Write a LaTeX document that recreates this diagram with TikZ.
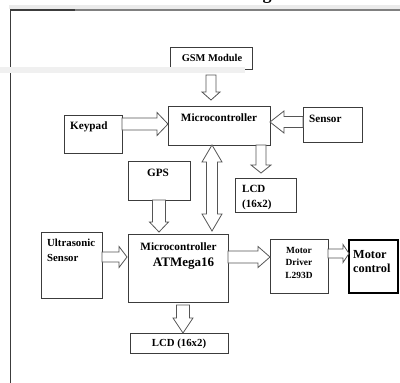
\documentclass[tikz,border=0pt]{standalone}
\usepackage{fontspec}
\setmainfont{Liberation Serif}
\usetikzlibrary{calc}
\definecolor{edge}{HTML}{3C3C3C}
\definecolor{arrc}{HTML}{555555}
% single hollow block arrow: #1 shaft half width, #2 head half width, #3 head length, #4 start, #5 tip
\newcommand\blkarrow[5]{%
  \path #4 coordinate (bA);
  \path #5 coordinate (bB);
  \path ($(bB)!#3!(bA)$) coordinate (bH);
  \filldraw[arrowst] ($(bA)!#1!90:(bB)$) -- ($(bH)!#1!-90:(bA)$) -- ($(bH)!#2!-90:(bA)$) -- (bB)
     -- ($(bH)!#2!90:(bA)$) -- ($(bH)!#1!90:(bA)$) -- ($(bA)!#1!-90:(bB)$) -- cycle;}
% double hollow block arrow
\newcommand\dblarrow[5]{%
  \path #4 coordinate (dA);
  \path #5 coordinate (dB);
  \path ($(dA)!#3!(dB)$) coordinate (dHA);
  \path ($(dB)!#3!(dA)$) coordinate (dHB);
  \filldraw[arrowst] (dA) -- ($(dHA)!#2!90:(dB)$) -- ($(dHA)!#1!90:(dB)$) -- ($(dHB)!#1!-90:(dA)$)
     -- ($(dHB)!#2!-90:(dA)$) -- (dB) -- ($(dHB)!#2!90:(dA)$) -- ($(dHB)!#1!90:(dA)$)
     -- ($(dHA)!#1!-90:(dB)$) -- ($(dHA)!#2!-90:(dB)$) -- cycle;}
\begin{document}
\begin{tikzpicture}[x=1pt,y=-1pt,
  box/.style={draw=edge, line width=0.9pt, inner sep=0pt, outer sep=0pt},
  txt/.style={inner sep=0pt, text=black, font=\bfseries\fontsize{11.2}{13}\selectfont},
  arrowst/.style={draw=arrc, line width=0.8pt, fill=white, line join=miter}]
\useasboundingbox (0,0) rectangle (400,383);
\fill[white] (0,0) rectangle (400,383);
% title fragment and frame
\node[inner sep=0pt, anchor=base, font=\bfseries\fontsize{18}{20}\selectfont] (ttl) at (267,-0.8) {g};
\fill[black!8] (9,4.5) rectangle (400,8.5);
\draw[line width=1.5pt, edge] (10.5,383) -- (10.5,10) -- (75,10);
\draw[line width=1.4pt, black!50] (75,10) -- (400,10);
% boxes
\node[box, minimum width=82pt, minimum height=22pt] (gsm) at (211,58) {};
\node[box, minimum width=102pt, minimum height=39pt] (m1) at (219,125.5) {};
\node[box, minimum width=58pt, minimum height=38pt] (kp) at (93,134) {};
\node[box, minimum width=59pt, minimum height=35pt] (sen) at (332.5,124.5) {};
\node[box, minimum width=61pt, minimum height=34pt] (lcda) at (265.5,195) {};
\node[box, minimum width=62pt, minimum height=39pt] (gps) at (159,180.5) {};
\node[box, minimum width=100pt, minimum height=68pt] (m2) at (178,268) {};
\node[box, minimum width=61pt, minimum height=66pt] (us) at (71.5,265) {};
\node[box, minimum width=58pt, minimum height=54pt] (md) at (299,266) {};
\node[box, draw=black, line width=1.6pt, minimum width=49pt, minimum height=53pt] (mc) at (373.5,266.5) {};
\node[box, minimum width=98pt, minimum height=20pt] (lcdb) at (179,343) {};
% texts
\node[txt, font=\bfseries\fontsize{10.4}{12}\selectfont] (gsmt) at (212,57.5) {GSM Module};
\node[txt] (m1t) at (219,118) {Microcontroller};
\node[txt, anchor=west] (kpt) at (70,126.5) {Keypad};
\node[txt, anchor=west] (sent) at (309,118.5) {Sensor};
\node[txt, anchor=west, align=left, font=\bfseries\fontsize{11}{15}\selectfont] (lcdat) at (242,197.5) {LCD\\(16x2)};
\node[txt] (gpst) at (158,173) {GPS};
\node[txt] (m2ta) at (178.5,247) {Microcontroller};
\node[txt, font=\bfseries\fontsize{13}{15}\selectfont] (m2tb) at (183.5,263.5) {ATMega16};
\node[txt, anchor=west, align=left, font=\bfseries\fontsize{10.8}{15}\selectfont] (ust) at (47,250.5) {Ultrasonic\\Sensor};
\node[txt, align=center, font=\bfseries\fontsize{9.4}{12.5}\selectfont] (mdt) at (299,262.5) {Motor\\Driver\\L293D};
\node[txt, anchor=west, align=left, font=\bfseries\fontsize{12.3}{13.5}\selectfont] (mct) at (353,261.5) {Motor\\control};
\node[txt, font=\bfseries\fontsize{10.8}{12}\selectfont] (lcdbt) at (179,344) {LCD (16x2)};
% connectors
\blkarrow{5pt}{9pt}{8pt}{([yshift=-6pt]gsm.south)}{([yshift=6pt]gsm.south |- m1.north)}
\blkarrow{6pt}{11.5pt}{11pt}{(kp.east |- 0,124)}{(m1.west |- 0,124)}
\blkarrow{5.5pt}{11pt}{14pt}{(sen.west |- 0,122)}{(m1.east |- 0,122)}
\blkarrow{5pt}{10pt}{8pt}{(m1.south -| 261,0)}{([yshift=5pt]lcda.north -| 261,0)}
\dblarrow{5.5pt}{10pt}{17pt}{(m1.south -| 212,0)}{([yshift=3pt]m2.north -| 212,0)}
\blkarrow{6.5pt}{9.5pt}{10pt}{(gps.south)}{([yshift=2pt]gps.south |- m2.north)}
\blkarrow{5pt}{10.5pt}{8pt}{(us.east |- 0,257)}{([xshift=-1pt]m2.west |- 0,257)}
\blkarrow{6pt}{10.5pt}{12pt}{(m2.east |- 0,257)}{(md.west |- 0,257)}
\blkarrow{4.5pt}{9pt}{6pt}{(md.east |- 0,253.5)}{(mc.west |- 0,253.5)}
\blkarrow{6.5pt}{10pt}{15pt}{([yshift=-3pt]m2.south -| 183,0)}{(lcdb.north -| 183,0)}
% light strip overlay
\fill[black!6] (0,66.5) rectangle (245,73);
\end{tikzpicture}
\end{document}
